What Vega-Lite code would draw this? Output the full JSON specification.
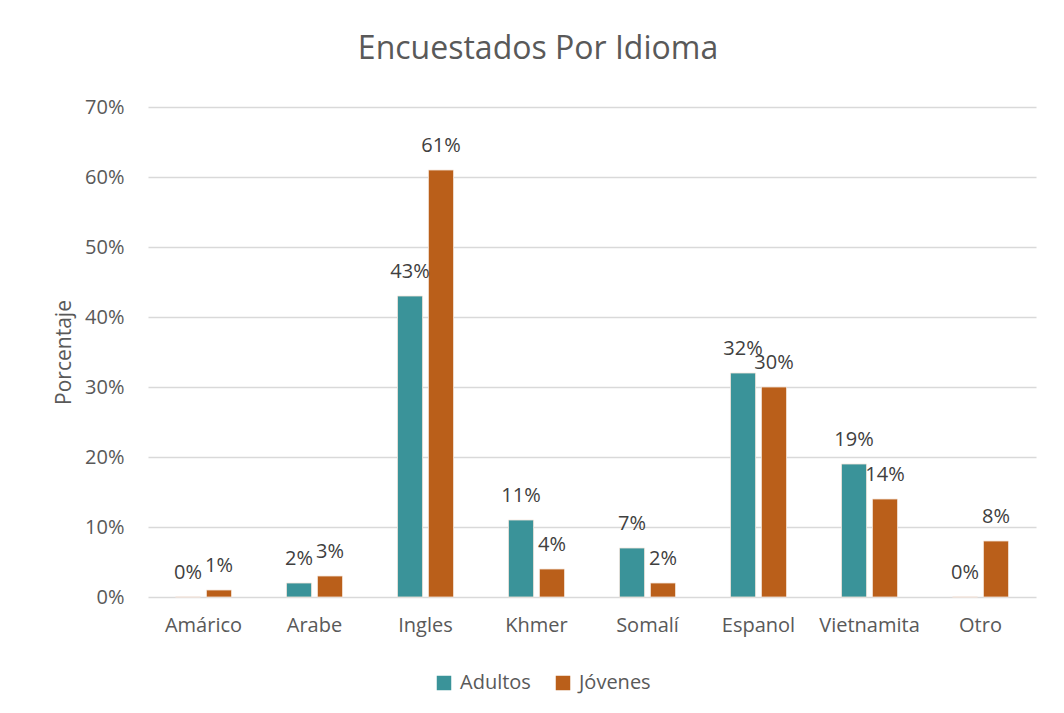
{
  "$schema": "https://vega.github.io/schema/vega-lite/v6.json",
  "width": 888,
  "height": 490,
  "autosize": {"type": "none"},
  "padding": {"left": 148, "top": 107, "right": 28, "bottom": 116},
  "background": "white",
  "title": {
    "text": "Encuestados Por Idioma",
    "font": "Open Sans",
    "fontSize": 32,
    "fontWeight": "normal",
    "color": "#595959",
    "anchor": "middle",
    "baseline": "alphabetic",
    "offset": 6,
    "dx": -54
  },
  "data": {
    "values": [
      {"idioma": "Amárico", "grupo": "Adultos", "valor": 0},
      {"idioma": "Amárico", "grupo": "Jóvenes", "valor": 0.01},
      {"idioma": "Arabe", "grupo": "Adultos", "valor": 0.02},
      {"idioma": "Arabe", "grupo": "Jóvenes", "valor": 0.03},
      {"idioma": "Ingles", "grupo": "Adultos", "valor": 0.43},
      {"idioma": "Ingles", "grupo": "Jóvenes", "valor": 0.61},
      {"idioma": "Khmer", "grupo": "Adultos", "valor": 0.11},
      {"idioma": "Khmer", "grupo": "Jóvenes", "valor": 0.04},
      {"idioma": "Somalí", "grupo": "Adultos", "valor": 0.07},
      {"idioma": "Somalí", "grupo": "Jóvenes", "valor": 0.02},
      {"idioma": "Espanol", "grupo": "Adultos", "valor": 0.32},
      {"idioma": "Espanol", "grupo": "Jóvenes", "valor": 0.30},
      {"idioma": "Vietnamita", "grupo": "Adultos", "valor": 0.19},
      {"idioma": "Vietnamita", "grupo": "Jóvenes", "valor": 0.14},
      {"idioma": "Otro", "grupo": "Adultos", "valor": 0},
      {"idioma": "Otro", "grupo": "Jóvenes", "valor": 0.08}
    ]
  },
  "encoding": {
    "x": {
      "field": "idioma",
      "type": "nominal",
      "sort": null,
      "scale": {"paddingInner": 0.495, "paddingOuter": 0.2475},
      "axis": {
        "title": null,
        "labelAngle": 0,
        "domain": false,
        "ticks": false,
        "labelPadding": 18,
        "labelFont": "Open Sans",
        "labelFontSize": 20,
        "labelColor": "#595959"
      }
    },
    "xOffset": {
      "field": "grupo",
      "type": "nominal",
      "scale": {"paddingInner": 0.19}
    },
    "y": {
      "field": "valor",
      "type": "quantitative",
      "scale": {"domain": [0, 0.7]},
      "axis": {
        "title": "Porcentaje",
        "values": [0, 0.1, 0.2, 0.3, 0.4, 0.5, 0.6, 0.7],
        "format": ".0%",
        "domain": false,
        "ticks": false,
        "gridColor": "#d9d9d9",
        "gridWidth": 1.5,
        "labelPadding": 24,
        "labelFont": "Open Sans",
        "labelFontSize": 20,
        "labelColor": "#595959",
        "titleFont": "Open Sans",
        "titleFontSize": 21,
        "titleFontWeight": "normal",
        "titleColor": "#595959",
        "titlePadding": 10
      }
    },
    "color": {
      "field": "grupo",
      "type": "nominal",
      "scale": {"domain": ["Adultos", "Jóvenes"], "range": ["#3A9399", "#BA5F1A"]},
      "legend": {
        "title": null,
        "orient": "none",
        "legendX": 286,
        "legendY": 566,
        "direction": "horizontal",
        "symbolType": "square",
        "symbolSize": 210,
        "symbolStrokeWidth": 0,
        "symbolOpacity": 1,
        "labelFont": "Open Sans",
        "labelFontSize": 20,
        "labelColor": "#595959",
        "labelOffset": 6,
        "columnPadding": 22
      }
    }
  },
  "layer": [
    {
      "mark": {"type": "bar", "stroke": "#f5e6dc", "strokeWidth": 0.8}
    },
    {
      "mark": {
        "type": "text",
        "baseline": "alphabetic",
        "dy": -18,
        "font": "Open Sans",
        "fontSize": 20,
        "color": "#404040"
      },
      "encoding": {
        "text": {"field": "valor", "type": "quantitative", "format": ".0%"},
        "color": {"value": "#404040"}
      }
    }
  ],
  "config": {
    "view": {"stroke": null}
  }
}
